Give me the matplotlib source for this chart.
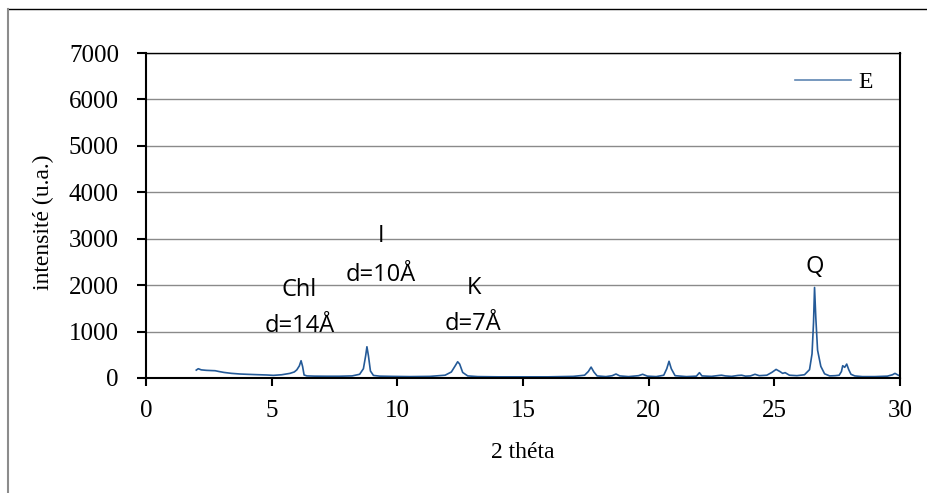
import matplotlib
matplotlib.use('Agg')
import matplotlib.pyplot as plt
from matplotlib.lines import Line2D

# diffractogram E
two_theta = [2.0, 2.08, 2.2, 2.4, 2.6, 2.75, 2.9, 3.1, 3.4, 3.74, 4.0, 4.4, 4.8, 5.07, 5.4, 5.73,
             5.9, 6.0, 6.1, 6.17, 6.23, 6.29, 6.4, 6.7, 7.2, 7.7, 8.2, 8.5, 8.65, 8.74, 8.79, 8.85,
             8.93, 9.05, 9.3, 9.8, 10.5, 11.3, 11.9, 12.15, 12.3, 12.4, 12.48, 12.6, 12.8, 13.2,
             14.0, 15.0, 16.0, 17.0, 17.45, 17.6, 17.71, 17.82, 17.95, 18.3, 18.55, 18.7, 18.85,
             19.2, 19.6, 19.76, 19.95, 20.3, 20.6, 20.72, 20.81, 20.9, 21.05, 21.5, 21.9, 22.02,
             22.12, 22.5, 22.8, 22.9, 23.05, 23.3, 23.55, 23.7, 23.85, 24.05, 24.23, 24.4, 24.7,
             24.9, 25.07, 25.22, 25.33, 25.43, 25.6, 25.9, 26.2, 26.4, 26.5, 26.56, 26.6, 26.65,
             26.72, 26.85, 27.0, 27.2, 27.42, 27.58, 27.67, 27.72, 27.8, 27.88, 27.96, 28.05,
             28.2, 28.5, 29.0, 29.5, 29.7, 29.8, 29.9, 30.0]
intensity = [170, 200, 175, 165, 160, 157, 140, 120, 100, 86, 80, 72, 65, 57, 70, 100,
             130, 175, 260, 372, 250, 65, 45, 40, 38, 38, 45, 80, 200, 480, 673, 480,
             150, 55, 40, 35, 30, 35, 60, 130, 260, 350, 300, 120, 45, 30,
             25, 25, 25, 35, 60, 140, 235, 130, 45, 30, 50, 86, 45,
             30, 50, 80, 40, 30, 60, 200, 360, 200, 50, 30, 40, 115,
             45, 35, 55, 60, 45, 35, 55, 60, 40, 45, 80, 50, 60,
             120, 185, 140, 100, 115, 60, 50, 70, 180, 520, 1200, 1950, 1300,
             600, 250, 90, 45, 50, 60, 140, 265, 230, 300, 180, 80,
             45, 30, 30, 40, 70, 100, 70, 40]

# peak labels: (2theta, intensity, text)
label_x = [6.1, 6.13, 9.35, 9.35, 13.05, 13.0, 26.6]
label_y = [1760, 980, 2920, 2080, 1800, 1040, 2260]
label_txt = ['Chl', 'd=14Å', 'I', 'd=10Å', 'K', 'd=7Å', 'Q']

yticks = [0, 1000, 2000, 3000, 4000, 5000, 6000, 7000]
xticks = [0, 5, 10, 15, 20, 25, 30]

serif = 'Liberation Serif'
line_col = '#245a98'

fig = plt.figure(figsize=(9.27, 4.93), dpi=100)
ax = fig.add_axes([146/927, 1-378/493, (900-146)/927, (378-53)/493])

ax.set_xlim(0, 30)
ax.set_ylim(0, 7000)
ax.set_xticks(xticks)
ax.set_yticks(yticks)
ax.yaxis.grid(True, color='#8a8a8a', lw=1.0)
ax.set_axisbelow(True)

ax.plot(two_theta, intensity, color=line_col, lw=1.2, label='E')

for x, y, t in zip(label_x, label_y, label_txt):
    ax.text(x, y, t, ha='center', va='baseline', fontsize=17, family='Open Sans')

for s in ['left', 'bottom', 'right', 'top']:
    ax.spines[s].set_linewidth(1.5)
    ax.spines[s].set_color('black')
ax.spines['top'].set_linewidth(1.0)

ax.tick_params(axis='y', direction='out', length=6.5, width=1.5, pad=13)
ax.tick_params(axis='x', direction='out', length=5.5, width=1.5, pad=10)
for lab in ax.get_xticklabels() + ax.get_yticklabels():
    lab.set_fontfamily(serif)
    lab.set_fontsize(18)

leg = ax.legend(loc='center left', bbox_to_anchor=(783/927, 1-82/493), bbox_transform=fig.transFigure,
                frameon=False, handlelength=2.4, handletextpad=0.3, borderpad=0,
                prop={'family': serif, 'size': 17})
leg.get_lines()[0].set_color('#5f86b3')

fig.text(43/927, 1-222/493, 'intensité (u.a.)', rotation=90, ha='center', va='center',
         family=serif, fontsize=17)
fig.text(523/927, 1-452/493, '2 théta', ha='center', va='center', family=serif, fontsize=17)

# outer frame of the chart area
fig.add_artist(Line2D([8/927, 1], [1-9/493, 1-9/493], transform=fig.transFigure, color='black', lw=1.0))
fig.add_artist(Line2D([8/927, 8/927], [0, 1-9/493], transform=fig.transFigure, color='#8c8c8c', lw=1.5))

fig.savefig('out.png', dpi=100)
